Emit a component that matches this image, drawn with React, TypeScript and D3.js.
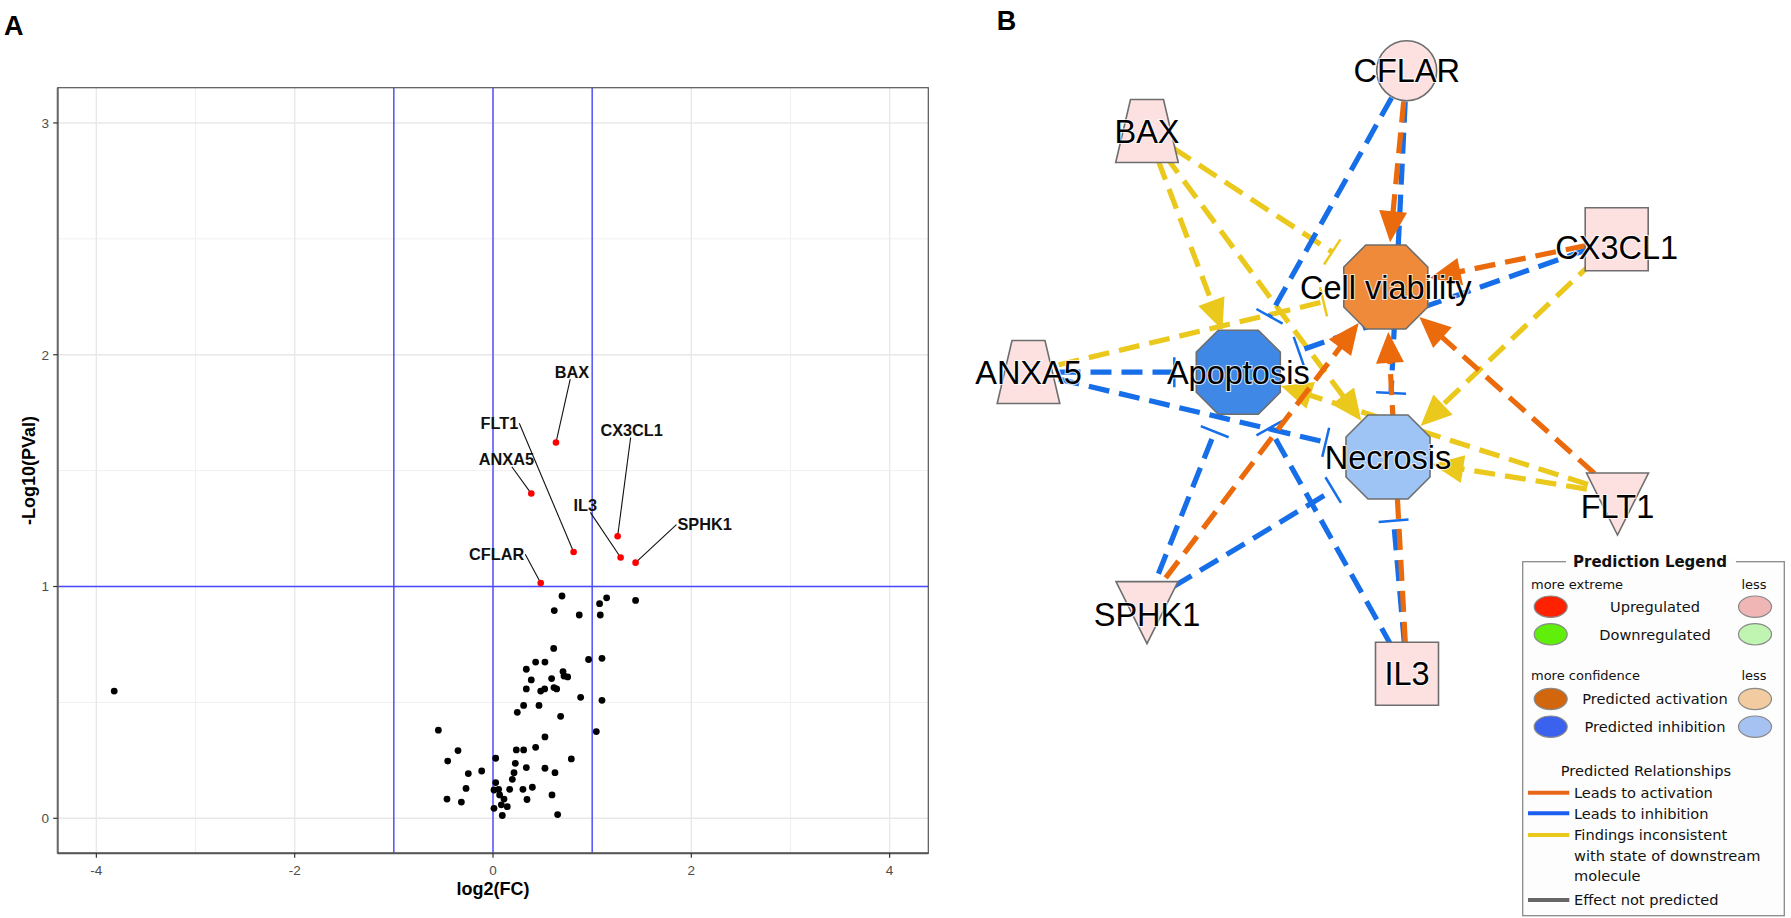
import React from 'react';
import * as d3 from 'd3';

const W = 1791;
const H = 918;

// ---------- Panel A: volcano plot ----------
const sigGenes = ['BAX', 'ANXA5', 'CX3CL1', 'FLT1', 'IL3', 'SPHK1', 'CFLAR'];
const sigLog2FC = [0.635, 0.386, 1.257, 0.813, 1.287, 1.438, 0.481];
const sigLogP = [1.621, 1.401, 1.217, 1.149, 1.125, 1.103, 1.015];
// where the repelled labels ended up (data units) and which side the segment leaves from
const labelLog2FC = [0.796, 0.135, 1.398, 0.065, 0.931, 2.134, 0.037];
const labelLogP = [1.927, 1.549, 1.675, 1.704, 1.352, 1.267, 1.139];
const labelSide = ['bottom', 'bottom', 'bottom', 'right', 'bottom', 'left', 'right'];

const otherLog2FC = [
  0.696, 0.618, 0.870, 1.075, 1.146, 1.082, 1.438, 0.612, 0.964, 1.099,
  0.430, 0.524, 0.336, 0.386, 0.591, 0.706, 0.716, 0.753, 0.336, 0.481,
  0.521, 0.615, 0.642, 0.884, 1.099, 0.309, 0.464, 0.245, 0.682, -0.551,
  0.524, 1.042, -0.353, 0.235, 0.309, 0.430, -0.457, 0.027, 0.225, 0.790,
  0.336, 0.524, -0.114, -0.249, 0.212, 0.625, 0.195, 0.027, -0.272, 0.010,
  0.057, 0.168, 0.302, 0.397, 0.067, 0.595, -0.464, -0.319, 0.111, 0.343,
  0.084, 0.010, 0.144, 0.094, 0.652, -3.82,
];
const otherLogP = [
  0.959, 0.896, 0.877, 0.926, 0.951, 0.877, 0.940, 0.733, 0.685, 0.690,
  0.674, 0.674, 0.643, 0.597, 0.603, 0.633, 0.614, 0.610, 0.558, 0.549,
  0.558, 0.564, 0.558, 0.522, 0.509, 0.487, 0.487, 0.457, 0.440, 0.380,
  0.351, 0.374, 0.292, 0.295, 0.295, 0.306, 0.247, 0.259, 0.237, 0.256,
  0.219, 0.216, 0.204, 0.193, 0.197, 0.197, 0.168, 0.154, 0.129, 0.122,
  0.125, 0.125, 0.125, 0.134, 0.101, 0.101, 0.083, 0.070, 0.083, 0.081,
  0.058, 0.043, 0.050, 0.012, 0.016, 0.549,
];

const xMajor = [-4, -2, 0, 2, 4];
const xMinor = [-3, -1, 1, 3];
const yMajor = [0, 1, 2, 3];
const yMinor = [0.5, 1.5, 2.5];
const fcCutoffs = [-1, 0, 1];
const pCutoff = 1;

// ---------- Panel B: network ----------
const nodeNames = ['CFLAR', 'BAX', 'CX3CL1', 'ANXA5', 'Cell viability', 'Apoptosis', 'Necrosis', 'FLT1', 'SPHK1', 'IL3'];
const nodeShapes = ['circle', 'trapezoid', 'square', 'trapezoid', 'octagon', 'octagon', 'octagon', 'triangle', 'triangle', 'square'];
const nodeStates = ['up', 'up', 'up', 'up', 'activated', 'inhibited', 'inhibitedLess', 'up', 'up', 'up'];
// layout of the network drawing
const nodeX = [1406.7, 1147, 1616.7, 1028.5, 1385.8, 1238.3, 1388, 1617.5, 1147, 1407];
const nodeY = [70.7, 131, 239.2, 372, 287, 372.2, 457, 494, 602.6, 673.7];

const edges: [string, string, 'act' | 'inh' | 'inc', 'arrow' | 'bar'][] = [
  ['BAX', 'Apoptosis', 'inc', 'arrow'],
  ['BAX', 'Necrosis', 'inc', 'arrow'],
  ['BAX', 'Cell viability', 'inc', 'bar'],
  ['ANXA5', 'Cell viability', 'inc', 'bar'],
  ['CX3CL1', 'Necrosis', 'inc', 'arrow'],
  ['FLT1', 'Necrosis', 'inc', 'arrow'],
  ['FLT1', 'Apoptosis', 'inc', 'arrow'],
  ['CFLAR', 'Necrosis', 'inh', 'bar'],
  ['CFLAR', 'Apoptosis', 'inh', 'bar'],
  ['CX3CL1', 'Apoptosis', 'inh', 'bar'],
  ['ANXA5', 'Apoptosis', 'inh', 'bar'],
  ['ANXA5', 'Necrosis', 'inh', 'bar'],
  ['SPHK1', 'Apoptosis', 'inh', 'bar'],
  ['SPHK1', 'Necrosis', 'inh', 'bar'],
  ['IL3', 'Apoptosis', 'inh', 'bar'],
  ['IL3', 'Necrosis', 'inh', 'bar'],
  ['CFLAR', 'Cell viability', 'act', 'arrow'],
  ['CX3CL1', 'Cell viability', 'act', 'arrow'],
  ['FLT1', 'Cell viability', 'act', 'arrow'],
  ['SPHK1', 'Cell viability', 'act', 'arrow'],
  ['IL3', 'Cell viability', 'act', 'arrow'],
];

const edgeColor = { act: '#ea6a0c', inh: '#166ee8', inc: '#ebc81c' };
const stateFill: Record<string, string> = {
  up: '#fde0e0',
  activated: '#ef8a3b',
  inhibited: '#3f88e6',
  inhibitedLess: '#9dc4f4',
};

// legend content
const legendStates = ['Upregulated', 'Downregulated', 'Predicted activation', 'Predicted inhibition'];
const legendStrong = ['#ff2200', '#5fef0a', '#d2660c', '#3a62ee'];
const legendWeak = ['#f0b6b6', '#bff5b0', '#f2cca0', '#a6c2f2'];
const relLabels = [['Leads to activation'], ['Leads to inhibition'], ['Findings inconsistent', 'with state of downstream', 'molecule'], ['Effect not predicted']];
const relColors = ['#e8661a', '#1a5ef0', '#e9c81a', '#666666'];

let ctx: CanvasRenderingContext2D | null = null;
function textWidth(t: string, font: string) {
  if (!ctx) ctx = document.createElement('canvas').getContext('2d');
  if (!ctx) return t.length * 9;
  ctx.font = font;
  return ctx.measureText(t).width;
}

const line = d3.line();

function shapePath(shape: string) {
  let pts: [number, number][] = [];
  if (shape === 'octagon') pts = [[-20, -42], [20, -42], [42, -20], [42, 20], [20, 42], [-20, 42], [-42, 20], [-42, -20]];
  if (shape === 'square') pts = [[-31.5, -31.5], [31.5, -31.5], [31.5, 31.5], [-31.5, 31.5]];
  if (shape === 'trapezoid') pts = [[-16.5, -31.5], [16.5, -31.5], [31.3, 31.5], [-31.3, 31.5]];
  if (shape === 'triangle') pts = [[-31, -21], [31, -21], [0, 41]];
  return line(pts) + 'Z';
}

const VolcanoPanel: React.FC = () => {
  const x = d3.scaleLinear().domain([-4.39, 4.39]).range([57.7, 928.3]);
  const y = d3.scaleLinear().domain([-0.151, 3.152]).range([853.3, 87.7]);
  const [x0, x1] = x.range();
  const [y0, y1] = y.range();
  const labelFont = 'bold 16.3px "Liberation Sans", Arial, sans-serif';

  return (
    <g>
      <text x={4} y={35} fontFamily='"Liberation Sans", Arial, sans-serif' fontWeight="bold" fontSize={27}>A</text>
      {xMinor.map((v) => <line key={'xm' + v} x1={x(v)} x2={x(v)} y1={y1} y2={y0} stroke="#f0f0f0" strokeWidth={1} />)}
      {yMinor.map((v) => <line key={'ym' + v} x1={x0} x2={x1} y1={y(v)} y2={y(v)} stroke="#f0f0f0" strokeWidth={1} />)}
      {xMajor.map((v) => <line key={'xM' + v} x1={x(v)} x2={x(v)} y1={y1} y2={y0} stroke="#e8e8e8" strokeWidth={1.4} />)}
      {yMajor.map((v) => <line key={'yM' + v} x1={x0} x2={x1} y1={y(v)} y2={y(v)} stroke="#e8e8e8" strokeWidth={1.4} />)}

      {fcCutoffs.map((v) => <line key={'fc' + v} x1={x(v)} x2={x(v)} y1={y1} y2={y0} stroke="#2a2aff" strokeWidth={1.2} />)}
      <line x1={x0} x2={x1} y1={y(pCutoff)} y2={y(pCutoff)} stroke="#4a4aff" strokeWidth={1.4} />

      {otherLog2FC.map((v, i) => <circle key={'o' + i} cx={x(v)} cy={y(otherLogP[i])} r={3.4} fill="#000" />)}

      {sigGenes.map((g, i) => {
        const px = x(sigLog2FC[i]);
        const py = y(sigLogP[i]);
        const lx = x(labelLog2FC[i]);
        const ly = y(labelLogP[i]);
        const hw = textWidth(g, labelFont) / 2 + 1;
        const hh = 7.5;
        let sx = lx, sy = ly;
        if (labelSide[i] === 'bottom') {
          // clip the centre-to-point line at the bottom edge of the label box
          const t = hh / (py - ly);
          sx = lx + (px - lx) * t;
          sy = ly + hh;
        } else if (labelSide[i] === 'right') {
          sx = lx + hw;
        } else {
          sx = lx - hw;
        }
        return (
          <g key={g}>
            <line x1={sx} y1={sy} x2={px} y2={py} stroke="#111" strokeWidth={1.1} />
            <circle cx={px} cy={py} r={3.3} fill="#ff0000" />
            <text x={lx} y={ly} dy="0.36em" textAnchor="middle" fontFamily='"Liberation Sans", Arial, sans-serif' fontWeight="bold" fontSize={16.3} fill="#111">{g}</text>
          </g>
        );
      })}

      <rect x={x0} y={y1} width={x1 - x0} height={y0 - y1} fill="none" stroke="#555" strokeWidth={1.2} />
      <line x1={x0} x2={x0} y1={y1} y2={y0} stroke="#6a6a6a" strokeWidth={2} />
      <line x1={x0} x2={x1} y1={y0} y2={y0} stroke="#555" strokeWidth={2} />

      {xMajor.map((v) => (
        <g key={'xt' + v}>
          <line x1={x(v)} x2={x(v)} y1={y0} y2={y0 + 4.5} stroke="#333" strokeWidth={1.2} />
          <text x={x(v)} y={875} textAnchor="middle" fontFamily='"Liberation Sans", Arial, sans-serif' fontSize={13.5} fill="#4d4d4d">{v < 0 ? '-' + Math.abs(v) : v}</text>
        </g>
      ))}
      {yMajor.map((v) => (
        <g key={'yt' + v}>
          <line x1={x0 - 4.5} x2={x0} y1={y(v)} y2={y(v)} stroke="#333" strokeWidth={1.2} />
          <text x={49} y={y(v)} dy="0.36em" textAnchor="end" fontFamily='"Liberation Sans", Arial, sans-serif' fontSize={13.5} fill="#4d4d4d">{v}</text>
        </g>
      ))}
      <text x={(x0 + x1) / 2} y={894.5} textAnchor="middle" fontFamily='"Liberation Sans", Arial, sans-serif' fontWeight="bold" fontSize={18}>log2(FC)</text>
      <text transform={`translate(34.6,${(y0 + y1) / 2}) rotate(-90)`} textAnchor="middle" fontFamily='"Liberation Sans", Arial, sans-serif' fontWeight="bold" fontSize={18}>-Log10(PVal)</text>
    </g>
  );
};

const NetworkPanel: React.FC = () => {
  const pos = d3.scaleLinear().domain([0, W]).range([0, W]);
  const idx = (n: string) => nodeNames.indexOf(n);

  const edgeMarks = edges.map(([s, t, rel, end], i) => {
    const si = idx(s), ti = idx(t);
    const sx = pos(nodeX[si]), sy = pos(nodeY[si]);
    const tx = pos(nodeX[ti]), ty = pos(nodeY[ti]);
    const L = Math.hypot(tx - sx, ty - sy);
    const ux = (tx - sx) / L, uy = (ty - sy) / L;
    const nx = -uy, ny = ux;
    const color = edgeColor[rel];
    if (end === 'arrow') {
      const tipX = tx - ux * 45, tipY = ty - uy * 45;
      const bX = tipX - ux * 31, bY = tipY - uy * 31;
      const head = line([[tipX, tipY], [bX + nx * 14, bY + ny * 14], [bX - nx * 14, bY - ny * 14]]) + 'Z';
      return (
        <g key={'e' + i}>
          <line x1={sx} y1={sy} x2={bX + ux * 4} y2={bY + uy * 4} stroke={color} strokeWidth={5.2} strokeDasharray="21 10" />
          <path d={head} fill={color} />
        </g>
      );
    }
    const eX = tx - ux * 64, eY = ty - uy * 64;
    return (
      <g key={'e' + i}>
        <line x1={sx} y1={sy} x2={eX} y2={eY} stroke={color} strokeWidth={5.2} strokeDasharray="21 10" />
        <line x1={eX + nx * 15} y1={eY + ny * 15} x2={eX - nx * 15} y2={eY - ny * 15} stroke={color} strokeWidth={2.5} />
      </g>
    );
  });

  return (
    <g>
      <text x={996.7} y={30} fontFamily='"Liberation Sans", Arial, sans-serif' fontWeight="bold" fontSize={27}>B</text>
      {edgeMarks}
      {nodeNames.map((n, i) => {
        const cx = pos(nodeX[i]), cy = pos(nodeY[i]);
        const fill = stateFill[nodeStates[i]];
        return (
          <g key={n} transform={`translate(${cx},${cy})`}>
            {nodeShapes[i] === 'circle'
              ? <circle r={30} fill={fill} stroke="#6e6e6e" strokeWidth={1.6} />
              : <path d={shapePath(nodeShapes[i])} fill={fill} stroke="#6e6e6e" strokeWidth={1.6} />}
          </g>
        );
      })}
      {nodeNames.map((n, i) => {
        const dy = nodeShapes[i] === 'triangle' ? 12 : n === 'CX3CL1' ? 8 : 0;
        return (
          <text key={'l' + n} x={pos(nodeX[i])} y={pos(nodeY[i]) + dy} dy="0.36em" textAnchor="middle"
            fontFamily='"Liberation Sans", Arial, sans-serif' fontSize={32.5} fill="#000"
            stroke="rgba(255,255,255,0.75)" strokeWidth={2.2} paintOrder="stroke">{n}</text>
        );
      })}
    </g>
  );
};

const Legend: React.FC = () => {
  const font = '"DejaVu Sans", Verdana, sans-serif';
  const left = 1522.7, top = 561.7, right = 1784.3, bottom = 915.7;
  const rowY = [606.7, 634.3, 699, 726.7];
  const relY = [792.7, 813.3, 835, 900];
  return (
    <g fontFamily={font} fill="#111">
      <rect x={left} y={top} width={right - left} height={bottom - top} fill="#fdfdfd" stroke="#8a8a8a" strokeWidth={1.3} />
      <rect x={1566} y={top - 3} width={170} height={6} fill="#fdfdfd" />
      <text x={1650} y={top} dy="0.36em" textAnchor="middle" fontWeight="bold" fontSize={15}>Prediction Legend</text>
      <text x={1531} y={584} dy="0.36em" fontSize={13}>more extreme</text>
      <text x={1754} y={584} dy="0.36em" textAnchor="middle" fontSize={13}>less</text>
      <text x={1531} y={675.7} dy="0.36em" fontSize={13}>more confidence</text>
      <text x={1754} y={675.7} dy="0.36em" textAnchor="middle" fontSize={13}>less</text>
      {legendStates.map((s, i) => (
        <g key={s}>
          <ellipse cx={1550.7} cy={rowY[i]} rx={16.5} ry={10.7} fill={legendStrong[i]} stroke="#8a8a8a" strokeWidth={1.2} />
          <ellipse cx={1755} cy={rowY[i]} rx={16.5} ry={10.7} fill={legendWeak[i]} stroke="#8a8a8a" strokeWidth={1.2} />
          <text x={1655} y={rowY[i]} dy="0.36em" textAnchor="middle" fontSize={14.6}>{s}</text>
        </g>
      ))}
      <text x={1646} y={771} dy="0.36em" textAnchor="middle" fontSize={14.6}>Predicted Relationships</text>
      {relLabels.map((lines, i) => (
        <g key={'r' + i}>
          <line x1={1528} x2={1569.3} y1={relY[i]} y2={relY[i]} stroke={relColors[i]} strokeWidth={4} />
          {lines.map((t, j) => (
            <text key={t} x={1574} y={relY[i] + j * 20.5} dy="0.36em" fontSize={14.6}>{t}</text>
          ))}
        </g>
      ))}
    </g>
  );
};

export default function App() {
  return (
    <div style={{ position: 'absolute', left: 0, top: 0, width: W, height: H, overflow: 'hidden', background: '#fff' }}>
      <svg width={W} height={H} viewBox={`0 0 ${W} ${H}`}>
        <rect width={W} height={H} fill="#fff" />
        <VolcanoPanel />
        <NetworkPanel />
        <Legend />
      </svg>
    </div>
  );
}
